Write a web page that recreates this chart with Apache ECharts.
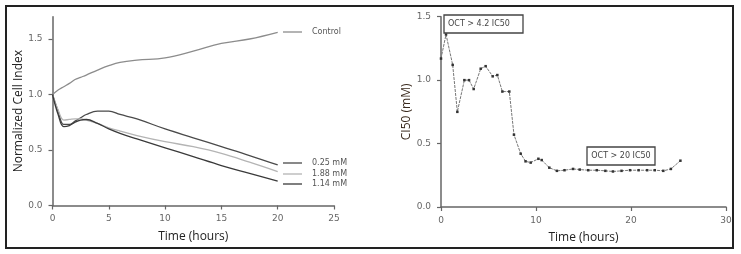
<!DOCTYPE html>
<html>
<head>
<meta charset="utf-8">
<script src="https://cdn.jsdelivr.net/npm/echarts@6/dist/echarts.min.js"></script>
<style>
html,body{margin:0;padding:0;background:#fff;}
#c{width:741px;height:254px;}
</style>
</head>
<body>
<div id="c"></div>
<script>
// ---------- Left panel: normalized cell index ----------
var timeHours = [0, 0.5, 1, 1.5, 2, 2.5, 3, 4, 5, 6, 7.5, 10, 12.5, 15, 17.5, 20];
var control   = [1.0, 1.04, 1.07, 1.10, 1.135, 1.155, 1.175, 1.22, 1.26, 1.29, 1.31, 1.33, 1.39, 1.46, 1.50, 1.56];
var conc025   = [1.0, 0.85, 0.73, 0.73, 0.76, 0.79, 0.82, 0.85, 0.85, 0.82, 0.78, 0.69, 0.61, 0.53, 0.45, 0.365];
var conc188   = [1.0, 0.86, 0.77, 0.775, 0.78, 0.78, 0.77, 0.74, 0.70, 0.67, 0.63, 0.575, 0.53, 0.47, 0.39, 0.305];
var conc114   = [1.0, 0.82, 0.71, 0.72, 0.75, 0.77, 0.775, 0.74, 0.69, 0.65, 0.60, 0.52, 0.44, 0.36, 0.29, 0.22];
var leftSeriesNames = ['Control', '0.25 mM', '1.88 mM', '1.14 mM'];
var leftXTicks = [0, 5, 10, 15, 20, 25];
var leftYTicks = [0, 0.5, 1.0, 1.5];

// ---------- Right panel: CI50 over time ----------
var ciTime = [0, 0.53, 1.23, 1.72, 2.46, 2.95, 3.44, 4.18, 4.70, 5.44, 5.93, 6.46, 7.19, 7.68, 8.39, 8.9, 9.44, 10.25, 10.6, 11.4, 12.2, 13.0, 13.9, 14.6, 15.5, 16.4, 17.3, 18.1, 19.0, 19.9, 20.8, 21.7, 22.5, 23.4, 24.2, 25.2];
var ci50   = [1.17, 1.36, 1.12, 0.75, 1.0, 1.0, 0.93, 1.09, 1.11, 1.03, 1.04, 0.91, 0.91, 0.57, 0.42, 0.36, 0.35, 0.38, 0.37, 0.31, 0.285, 0.29, 0.30, 0.295, 0.29, 0.29, 0.285, 0.28, 0.285, 0.29, 0.29, 0.29, 0.29, 0.285, 0.30, 0.365];
var rightXTicks = [0, 10, 20, 30];
var rightYTicks = [0, 0.5, 1.0, 1.5];
var annotations = ['OCT > 4.2 IC50', 'OCT > 20 IC50'];

function pairs(xs, ys){ return xs.map(function(x,i){ return [x, ys[i]]; }); }

var axisCol = '#666';
var labelStyle = {color:'#666', fontSize:9, fontFamily:'DejaVu Sans'};
var titleStyle = {color:'#222', fontSize:12, fontFamily:'Open Sans'};

function fmt1(v){ return Number(v).toFixed(1); }

var chart = echarts.init(document.getElementById('c'), null, {renderer:'canvas'});
var lineColors = ['#8c8c8c', '#4a4a4a', '#b4b4b4', '#3a3a3a'];
var leftData = [control, conc025, conc188, conc114];

var series = leftData.map(function(d, i){
  return {
    name: leftSeriesNames[i], type:'line', xAxisIndex:0, yAxisIndex:0,
    data: pairs(timeHours, d), smooth:0.4, showSymbol:false, symbol:'none',
    lineStyle:{color:lineColors[i], width:1.3}, animation:false
  };
});
series.push({
  name:'CI50', type:'line', xAxisIndex:1, yAxisIndex:1,
  data: pairs(ciTime, ci50), symbol:'rect', symbolSize:2.5, showSymbol:true,
  itemStyle:{color:'#333'}, lineStyle:{color:'#777', width:1, type:[3,1]}, animation:false
});

function legendItem(y, name, color){
  return [
    {type:'line', shape:{x1:283, y1:y, x2:302, y2:y}, style:{stroke:color, lineWidth:1.3}},
    {type:'text', x:312, y:y, style:{text:name, fill:'#555', font:'8px DejaVu Sans', textVerticalAlign:'middle'}}
  ];
}

var graphics = [
  {type:'rect', shape:{x:6, y:6, width:727, height:242}, style:{fill:'none', stroke:'#222', lineWidth:2}},
  {type:'rect', shape:{x:444, y:15, width:79, height:18}, style:{fill:'#fff', stroke:'#444', lineWidth:1.3}, z:10},
  {type:'text', x:448, y:24, z:11, style:{text:annotations[0], fill:'#444', font:'8px DejaVu Sans', textVerticalAlign:'middle'}},
  {type:'rect', shape:{x:587, y:147, width:68, height:18}, style:{fill:'#fff', stroke:'#444', lineWidth:1.3}, z:10},
  {type:'text', x:621, y:156, z:11, style:{text:annotations[1], fill:'#444', font:'8px DejaVu Sans', textAlign:'center', textVerticalAlign:'middle'}}
];
graphics = graphics.concat(legendItem(32, leftSeriesNames[0], lineColors[0]));
graphics = graphics.concat(legendItem(163, leftSeriesNames[1], lineColors[1]));
graphics = graphics.concat(legendItem(174, leftSeriesNames[2], lineColors[2]));
graphics = graphics.concat(legendItem(184, leftSeriesNames[3], lineColors[3]));

function xAxis(idx, max, interval, ticks){
  return {
    type:'value', gridIndex:idx, min:0, max:max, interval:interval,
    name:'Time (hours)', nameLocation:'middle', nameGap:25, nameTextStyle:titleStyle,
    axisLine:{show:true, lineStyle:{color:axisCol, width:1.5}},
    axisTick:{show:true, length:4, lineStyle:{color:axisCol, width:1.2}, customValues:ticks},
    axisLabel:{show:true, margin:9, customValues:ticks, color:labelStyle.color, fontSize:labelStyle.fontSize, fontFamily:labelStyle.fontFamily},
    splitLine:{show:false}
  };
}
function yAxis(idx, max, name, gap, ticks, nameColor){
  var ns = Object.assign({}, titleStyle, {color:nameColor});
  return {
    type:'value', gridIndex:idx, min:0, max:max, interval:0.5,
    name:name, nameLocation:'middle', nameGap:gap, nameTextStyle:ns,
    axisLine:{show:true, lineStyle:{color:axisCol, width:1.5}},
    axisTick:{show:true, length:4, lineStyle:{color:axisCol, width:1.2}, customValues:ticks},
    axisLabel:{show:true, margin:10, customValues:ticks, formatter:fmt1, color:labelStyle.color, fontSize:labelStyle.fontSize, fontFamily:labelStyle.fontFamily},
    splitLine:{show:false}
  };
}

chart.setOption({
  animation:false,
  backgroundColor:'#fff',
  grid:[
    {left:52.5, right:407, top:16.8, bottom:48.5},
    {left:441, right:15, top:16.7, bottom:47}
  ],
  xAxis:[ xAxis(0, 25, 5, leftXTicks), xAxis(1, 30, 10, rightXTicks) ],
  yAxis:[ yAxis(0, 1.7, 'Normalized Cell Index', 23, leftYTicks, '#222'), yAxis(1, 1.5, 'CI50 (mM)', 27, rightYTicks, '#3a2a1e') ],
  series: series,
  graphic: graphics
});
</script>
</body>
</html>
